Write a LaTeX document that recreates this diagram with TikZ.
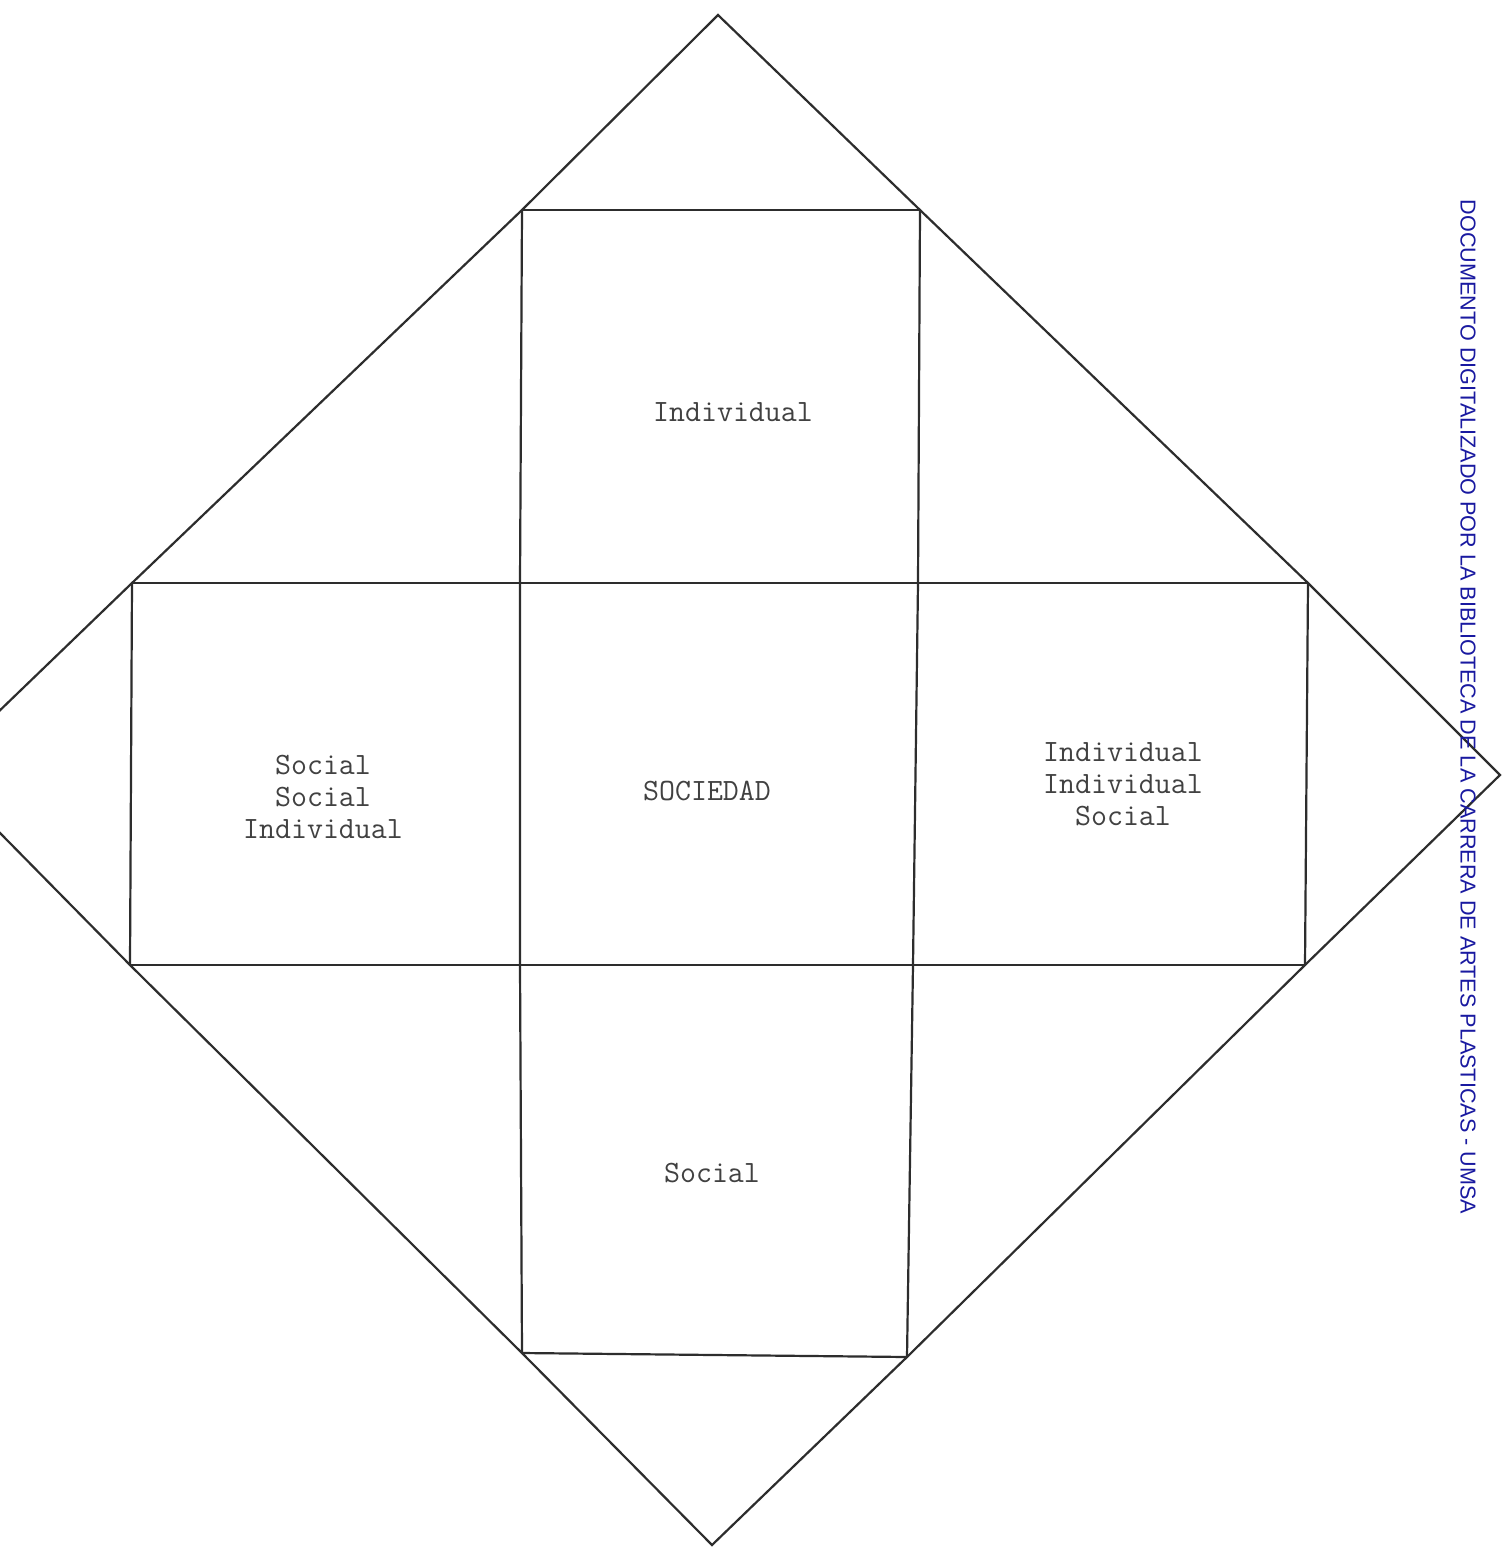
\documentclass[tikz,border=0pt]{standalone}
\usepackage{fontspec}
\newfontfamily\wmfont{Liberation Sans}
\definecolor{linec}{RGB}{45,45,45}
\definecolor{textc}{RGB}{65,65,65}
\definecolor{wmblue}{RGB}{25,25,160}
\tikzset{
  edge/.style={draw=linec, line width=2.2pt, line join=miter},
  lab/.style={text=textc, font=\fontsize{31}{32}\selectfont\ttfamily, align=center, inner sep=0pt},
  wm/.style={text=wmblue, font=\fontsize{21.6}{24}\selectfont\wmfont, inner sep=0pt}
}
\begin{document}
\begin{tikzpicture}[x=1pt,y=-1pt]
\useasboundingbox (0,0) rectangle (1502,1548);
\fill[white] (0,0) rectangle (1502,1548);
\clip (0,0) rectangle (1502,1548);
% vertices of the diamond
\coordinate (T) at (718,15);
\coordinate (R) at (1500,775);
\coordinate (B) at (712,1545);
\coordinate (L) at (-62,770);
% square corners
\coordinate (a1) at (522,210);
\coordinate (a2) at (920,210);
\coordinate (b1) at (132,583);
\coordinate (b2) at (520,583);
\coordinate (b3) at (918,583);
\coordinate (b4) at (1308,583);
\coordinate (c1) at (130,965);
\coordinate (c2) at (520,965);
\coordinate (c3) at (913,965);
\coordinate (c4) at (1305,965);
\coordinate (d1) at (522,1353);
\coordinate (d2) at (907,1357);
% diamond outline
\draw[edge] (T) -- (a2) -- (b4) -- (R) -- (c4) -- (d2) -- (B) -- (d1) -- (c1) -- (L) -- (b1) -- (a1) -- cycle;
% horizontal lines
\draw[edge] (a1) -- (a2);
\draw[edge] (b1) -- (b2) -- (b3) -- (b4);
\draw[edge] (c1) -- (c2) -- (c3) -- (c4);
\draw[edge] (d1) -- (d2);
% vertical lines
\draw[edge] (a1) -- (b2) -- (c2) -- (d1);
\draw[edge] (a2) -- (b3) -- (c3) -- (d2);
\draw[edge] (b1) -- (c1);
\draw[edge] (b4) -- (c4);
% labels
\node[lab] (top) at (733,412) {Individual};
\node[lab] (left) at (323,797) {Social\\Social\\Individual};
\node[lab] (mid) at (707,791) {SOCIEDAD};
\node[lab] (right) at (1123,784) {Individual\\Individual\\Social};
\node[lab] (bot) at (712,1173) {Social};
% watermark
\node[wm, rotate=-90] (wmark) at (1468,707) {DOCUMENTO DIGITALIZADO POR LA BIBLIOTECA DE LA CARRERA DE ARTES PLASTICAS - UMSA};
\end{tikzpicture}
\end{document}
